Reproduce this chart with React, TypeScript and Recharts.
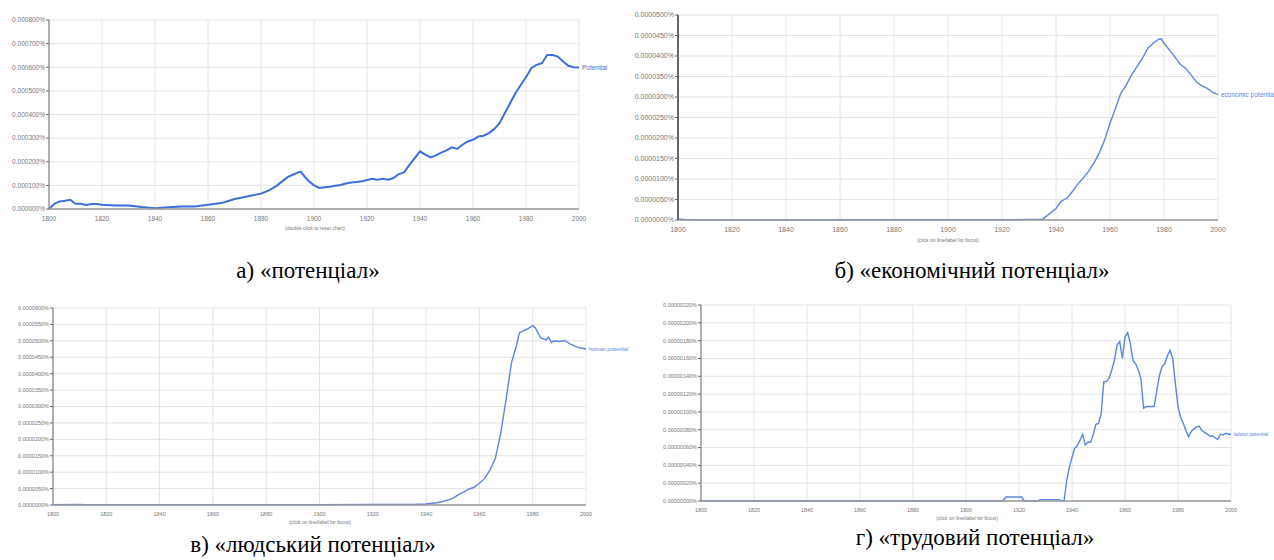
import React from "react";
import { LineChart, Line, XAxis, YAxis, CartesianGrid } from "recharts";

// ---------- data ----------
const xTicks = [1800, 1820, 1840, 1860, 1880, 1900, 1920, 1940, 1960, 1980, 2000];

// a) "Potential" (units of 0.000001 %)
const potentialYears = [1800, 1802, 1804, 1806, 1808, 1810, 1812, 1814, 1816, 1818, 1820, 1825, 1830, 1835, 1840, 1845, 1850, 1855, 1860, 1865, 1868, 1870, 1873, 1876, 1880, 1883, 1886, 1888, 1890, 1892, 1894, 1895, 1897, 1898, 1900, 1902, 1904, 1906, 1908, 1910, 1912, 1914, 1916, 1918, 1920, 1922, 1924, 1926, 1928, 1930, 1932, 1934, 1936, 1938, 1940, 1942, 1944, 1946, 1948, 1950, 1952, 1954, 1956, 1958, 1960, 1962, 1964, 1966, 1968, 1970, 1972, 1974, 1976, 1978, 1980, 1982, 1984, 1986, 1988, 1990, 1992, 1994, 1996, 1998, 2000];
const potentialValues = [0, 22, 32, 35, 39, 22, 22, 17, 21, 21, 18, 15, 15, 8, 3, 7, 11, 11, 18, 25, 35, 42, 49, 56, 65, 79, 99, 117, 135, 145, 155, 158, 130, 118, 100, 89, 92, 94, 98, 102, 108, 112, 114, 117, 123, 128, 124, 128, 124, 131, 148, 155, 187, 215, 244, 230, 218, 227, 239, 248, 261, 254, 272, 286, 293, 307, 310, 321, 338, 363, 406, 448, 490, 525, 558, 596, 610, 617, 652, 652, 645, 624, 606, 600, 599];
const potentialTicks = [0, 100, 200, 300, 400, 500, 600, 700, 800];

// b) "economic potential" (units of 0.0000001 %)
const economicYears = [1800, 1801, 1803, 1805, 1820, 1850, 1880, 1900, 1925, 1930, 1935, 1937, 1940, 1942, 1944, 1946, 1948, 1950, 1952, 1954, 1956, 1958, 1960, 1962, 1964, 1966, 1968, 1970, 1972, 1974, 1976, 1978, 1979, 1980, 1982, 1984, 1986, 1988, 1990, 1992, 1994, 1996, 1998, 2000];
const economicValues = [2, 2, 1, 0.5, 0.3, 0.3, 0.5, 0.5, 1, 1.5, 2, 12, 28, 46, 53, 69, 87, 102, 118, 138, 163, 195, 236, 272, 309, 329, 354, 374, 394, 419, 431, 441, 442, 431, 415, 398, 380, 370, 354, 337, 327, 321, 311, 306];
const economicTicks = [0, 50, 100, 150, 200, 250, 300, 350, 400, 450, 500];

// c) "human potential" (units of 0.0000001 %)
const humanYears = [1800, 1810, 1812, 1830, 1860, 1900, 1920, 1935, 1940, 1944, 1946, 1948, 1950, 1952, 1954, 1956, 1958, 1960, 1962, 1964, 1966, 1968, 1970, 1972, 1974, 1975, 1976, 1978, 1980, 1981, 1982, 1983, 1984, 1985, 1986, 1987, 1988, 1990, 1992, 1994, 1996, 1998, 2000];
const humanValues = [1, 2, 1, 1, 1, 1, 2, 2, 3, 7, 10, 15, 20, 31, 39, 48, 54, 66, 81, 107, 142, 219, 320, 432, 488, 524, 529, 536, 546, 539, 524, 509, 506, 503, 511, 495, 500, 498, 501, 491, 483, 478, 475];
const humanTicks = [0, 50, 100, 150, 200, 250, 300, 350, 400, 450, 500, 550, 600];

// d) "labour potential" (units of 0.00000001 %)
const labourYears = [1800, 1914, 1915, 1921, 1922, 1927, 1928, 1935, 1936, 1937, 1938, 1939, 1940, 1941, 1942, 1943, 1944, 1945, 1946, 1947, 1948, 1949, 1950, 1951, 1952, 1953, 1954, 1955, 1956, 1957, 1958, 1959, 1960, 1961, 1962, 1963, 1964, 1965, 1966, 1967, 1968, 1969, 1970, 1971, 1972, 1973, 1974, 1975, 1976, 1977, 1978, 1979, 1980, 1981, 1982, 1983, 1984, 1985, 1986, 1987, 1988, 1989, 1990, 1991, 1992, 1993, 1994, 1995, 1996, 1997, 1998, 1999, 2000];
const labourValues = [0, 0, 4.5, 4.5, 0, 0, 1.5, 1.5, 0.5, 0, 23, 38, 49, 59, 62, 68, 75, 63, 66, 66, 74, 86, 87, 98, 134, 134, 138, 147, 158, 175, 179, 160, 184, 189, 177, 158, 154, 147, 138, 104, 106, 106, 106, 106, 124, 141, 151, 154, 163, 169, 160, 132, 106, 94, 87, 79, 72, 78, 81, 83, 84, 79, 77, 75, 73, 73, 71, 69, 75, 74, 76, 75, 75];
const labourTicks = [0, 20, 40, 60, 80, 100, 120, 140, 160, 180, 200, 220];

const build = (years: number[], values: number[]) => years.map((year, i) => ({ year, v: values[i] }));

const dataA = build(potentialYears, potentialValues);
const dataB = build(economicYears, economicValues);
const dataC = build(humanYears, humanValues);
const dataD = build(labourYears, labourValues);

// ---------- helpers ----------
const fmt = (scale: number, digits: number) => (v: number) => (v / scale).toFixed(digits) + "%";

const SANS = "'Liberation Sans', Arial, sans-serif";
const SERIF = "'Liberation Serif', 'Times New Roman', serif";

const makeEndLabel = (text: string, color: string, size: number, count: number) => (props: any) => {
  const { x, y, index } = props;
  if (index !== count - 1) return null;
  return (
    <text x={x + 3} y={y + size * 0.35} fill={color} fontSize={size} fontFamily={SANS}>
      {text}
    </text>
  );
};

type PanelProps = {
  left: number;
  top: number;
  width: number;
  height: number;
  marginTop: number;
  marginRight: number;
  yWidth: number;
  xHeight: number;
  data: { year: number; v: number }[];
  yTicks: number[];
  yFormat: (v: number) => string;
  label: string;
  lineColor: string;
  lineWidth: number;
  labelColor: string;
  fontSize: number;
  labelSize: number;
  yAxisColor: string;
  yAxisWidth: number;
};

const Panel = (p: PanelProps) => (
  <div style={{ position: "absolute", left: p.left, top: p.top }}>
    <LineChart
      width={p.width}
      height={p.height}
      data={p.data}
      margin={{ top: p.marginTop, right: p.marginRight, left: 0, bottom: 0 }}
      style={{ overflow: "visible" }}
    >
      <CartesianGrid stroke="#e4e4e4" strokeWidth={1} />
      <XAxis
        dataKey="year"
        type="number"
        domain={[1800, 2000]}
        ticks={xTicks}
        height={p.xHeight}
        tickLine={false}
        axisLine={{ stroke: "#9a9a9a", strokeWidth: 1.5 }}
        tick={{ fontSize: p.fontSize, fill: "#777", fontFamily: SANS }}
        tickMargin={1}
        interval={0}
      />
      <YAxis
        type="number"
        domain={[p.yTicks[0], p.yTicks[p.yTicks.length - 1]]}
        ticks={p.yTicks}
        width={p.yWidth}
        tickFormatter={p.yFormat}
        tickLine={{ stroke: "#666" }}
        tickSize={3}
        tickMargin={1}
        axisLine={{ stroke: p.yAxisColor, strokeWidth: p.yAxisWidth }}
        tick={{ fontSize: p.fontSize, fill: "#777", fontFamily: SANS }}
        interval={0}
      />
      <Line
        type="linear"
        dataKey="v"
        stroke={p.lineColor}
        strokeWidth={p.lineWidth}
        dot={false}
        activeDot={false}
        isAnimationActive={false}
        label={makeEndLabel(p.label, p.labelColor, p.labelSize, p.data.length)}
      />
    </LineChart>
  </div>
);

const noteStyle: React.CSSProperties = {
  position: "absolute",
  fontFamily: SANS,
  fontSize: 5,
  color: "#777",
  whiteSpace: "nowrap",
  transform: "translateX(-50%)",
};

const captionStyle: React.CSSProperties = {
  position: "absolute",
  fontFamily: SERIF,
  fontSize: 23,
  color: "#000",
  whiteSpace: "nowrap",
  transform: "translateX(-50%)",
  lineHeight: "23px",
};

export default function App() {
  return (
    <div style={{ position: "absolute", left: 0, top: 0, width: 1274, height: 560, background: "#fff", overflow: "hidden" }}>
      <Panel
        left={0} top={0} width={640} height={240} marginTop={20} marginRight={61} yWidth={49} xHeight={31}
        data={dataA} yTicks={potentialTicks} yFormat={fmt(1e6, 6)} label="Potential"
        lineColor="#3d6fdc" lineWidth={2} labelColor="#3d6fdc" fontSize={6.5} labelSize={6.5} yAxisColor="#999" yAxisWidth={1.5}
      />
      <Panel
        left={620} top={0} width={654} height={250} marginTop={15} marginRight={56} yWidth={58} xHeight={30}
        data={dataB} yTicks={economicTicks} yFormat={fmt(1e7, 7)} label="economic potential"
        lineColor="#5b86e2" lineWidth={1.4} labelColor="#5b86e2" fontSize={7} labelSize={6.5} yAxisColor="#666" yAxisWidth={2}
      />
      <Panel
        left={0} top={290} width={640} height={245} marginTop={18} marginRight={54} yWidth={53} xHeight={30}
        data={dataC} yTicks={humanTicks} yFormat={fmt(1e7, 7)} label="human potential"
        lineColor="#5b86e2" lineWidth={1.4} labelColor="#5b86e2" fontSize={5.5} labelSize={5.5} yAxisColor="#999" yAxisWidth={1.5}
      />
      <Panel
        left={640} top={290} width={634} height={241} marginTop={15} marginRight={43} yWidth={61} xHeight={30}
        data={dataD} yTicks={labourTicks} yFormat={fmt(1e8, 8)} label="labour potential"
        lineColor="#5b86e2" lineWidth={1.4} labelColor="#5b86e2" fontSize={5.5} labelSize={5} yAxisColor="#999" yAxisWidth={1.5}
      />

      <div style={{ ...noteStyle, left: 315, top: 225 }}>(double click to reset chart)</div>
      <div style={{ ...noteStyle, left: 948, top: 237 }}>(click on line/label for focus)</div>
      <div style={{ ...noteStyle, left: 320, top: 519 }}>(click on line/label for focus)</div>
      <div style={{ ...noteStyle, left: 967, top: 515 }}>(click on line/label for focus)</div>

      <div style={{ ...captionStyle, left: 308, top: 259 }}>а) «потенціал»</div>
      <div style={{ ...captionStyle, left: 972, top: 259 }}>б) «економічний потенціал»</div>
      <div style={{ ...captionStyle, left: 313, top: 533 }}>в) «людський потенціал»</div>
      <div style={{ ...captionStyle, left: 975, top: 526 }}>г) «трудовий потенціал»</div>
    </div>
  );
}
